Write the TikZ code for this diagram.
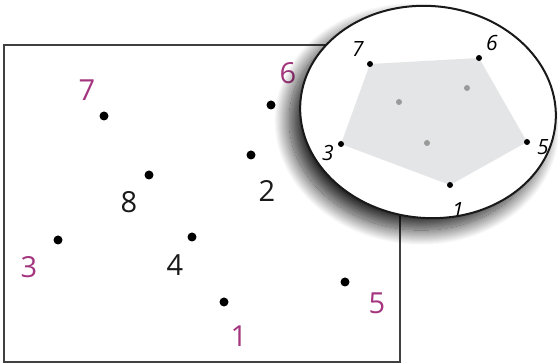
\documentclass[tikz,border=0pt]{standalone}
\usepackage{fontspec}
\setmainfont{Open Sans}
\usetikzlibrary{shadows.blur}
\definecolor{mag}{HTML}{A3367F}
\definecolor{polyfill}{HTML}{E4E5E6}
\definecolor{gdot}{HTML}{9A9A9A}
\tikzset{
  bigdot/.style={circle,fill=black,inner sep=0pt,minimum size=9pt},
  smalldot/.style={circle,fill=black,inner sep=0pt,minimum size=6pt},
  graydot/.style={circle,fill=gdot,inner sep=0pt,minimum size=6pt},
  maglab/.style={inner sep=0pt,text=mag,font=\fontsize{29}{29}\selectfont},
  blklab/.style={inner sep=0pt,text=black!90,font=\fontsize{29}{29}\selectfont},
  itlab/.style={inner sep=0pt,text=black,font=\itshape\fontsize{21}{21}\selectfont},
}
\begin{document}
\begin{tikzpicture}[x=1pt,y=-1pt]
\useasboundingbox (0,0) rectangle (558,363);
% frame
\draw[line width=1.1pt,black!75] (4,45) rectangle (400,362);
% main points
\node[bigdot] (p7) at (104,116) {};
\node[bigdot] (p6) at (271,105) {};
\node[bigdot] (p2) at (251,155) {};
\node[bigdot] (p8) at (149,175) {};
\node[bigdot] (p3) at (58,240) {};
\node[bigdot] (p4) at (192,237) {};
\node[bigdot] (p1) at (224,302) {};
\node[bigdot] (p5) at (345,282) {};
\node[maglab] (l7) at (87,90) {7};
\node[maglab] (l6) at (288,73) {6};
\node[blklab] (l2) at (267,191) {2};
\node[blklab] (l8) at (129,202) {8};
\node[maglab] (l3) at (29,267) {3};
\node[blklab] (l4) at (175,265) {4};
\node[maglab] (l1) at (239,336) {1};
\node[maglab] (l5) at (377,303) {5};
% magnifier
\begin{scope}[shift={(428,112)},rotate=-5]
\fill[white,blur shadow={shadow xshift=-11pt,shadow yshift=-12pt,shadow blur radius=15pt,shadow blur steps=30,shadow opacity=85}] (0,0) ellipse (128 and 106);
\end{scope}
\coordinate (c7) at (370,64);
\coordinate (c6) at (479,58);
\coordinate (c5) at (527,142);
\coordinate (c1) at (450,185);
\coordinate (c3) at (341,144);
\fill[polyfill] (c7) -- (c6) -- (c5) -- (c1) -- (c3) -- cycle;
\node[smalldot] (d7) at (c7) {};
\node[smalldot] (d6) at (c6) {};
\node[smalldot] (d5) at (c5) {};
\node[smalldot] (d1) at (c1) {};
\node[smalldot] (d3) at (c3) {};
\node[graydot] (g1) at (399,102) {};
\node[graydot] (g2) at (467,88) {};
\node[graydot] (g3) at (427,143) {};
\node[itlab] (e7) at (358,49) {7};
\node[itlab] (e6) at (492,43) {6};
\node[itlab] (e5) at (543,147) {5};
\node[itlab] (e1) at (458,210) {1};
\node[itlab] (e3) at (328,153) {3};
\begin{scope}[shift={(428,112)},rotate=-5]
\draw[line width=2pt,black!90] (0,0) ellipse (128 and 106);
\end{scope}
\end{tikzpicture}
\end{document}
